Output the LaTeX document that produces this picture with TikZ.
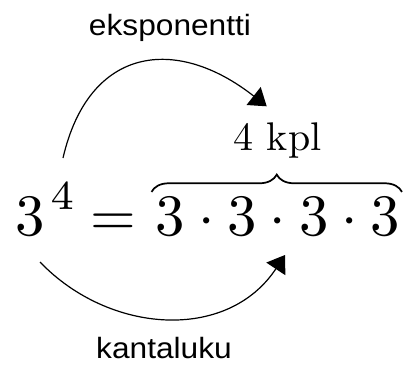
\documentclass[tikz,border=0pt]{standalone}
\usepackage{fontspec}
\newfontfamily\labfont[FakeStretch=1.08]{Liberation Sans}
\usetikzlibrary{arrows.meta,decorations.pathreplacing,calc}
\newcommand{\bigmath}[1]{\scalebox{4.4}{$#1$}}
\tikzset{
  eqfont/.style={inner sep=0pt, font=\fontsize{10}{12}\selectfont},
  labtext/.style={inner sep=0pt, font=\labfont\fontsize{22}{26}\selectfont},
  arr/.style={line width=0.9pt, -{Triangle[length=12.5pt,width=17pt]}},
  bracestyle/.style={line width=1.3pt, decorate, decoration={brace, amplitude=13pt}}
}
\begin{document}
\begin{tikzpicture}[x=0.75pt, y=-0.75pt]
\useasboundingbox (0,0) rectangle (406,365);
% equation
\node[eqfont, anchor=base west] (pow) at (15.6,235) {\bigmath{3^{\mkern2mu\raisebox{0.8pt}{$\scriptstyle 4$}}}};
\node[eqfont, anchor=base] (eq) at (113.5,235) {\bigmath{=}};
\node[eqfont, anchor=base east] (prod) at (400.5,235) {\bigmath{3\cdot3\cdot3\cdot3}};
% brace and count
\draw[bracestyle] ([xshift=-3pt, yshift=3.75pt]prod.north west) -- ([xshift=1.1pt, yshift=3.75pt]prod.north east);
\node[eqfont, anchor=base] (cnt) at (277.5,150) {\scalebox{3}{4 kpl}};
% labels
\node[labtext, anchor=base] (lexp) at (170,35) {eksponentti};
\node[labtext, anchor=base] (lbase) at (164,358) {kantaluku};
% connector ends
\coordinate (s1) at (63,158);
\coordinate (e1) at (266.7,106.3);
\coordinate (s2) at (40,262);
\coordinate (e2) at (285,255);
\draw[arr] (s1) .. controls +(25.9,-112) and +(-90.3,-71.1) .. (e1);
\draw[arr] (s2) .. controls +(69,72) and +(-57.7,87.2) .. (e2);
\end{tikzpicture}
\end{document}
